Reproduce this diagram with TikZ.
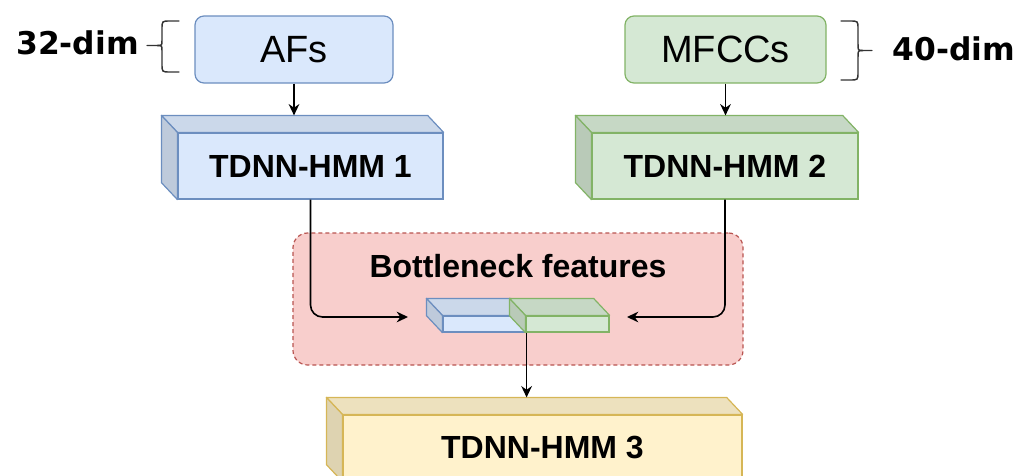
\documentclass[tikz,border=0pt]{standalone}
\usepackage{fontspec}
\setmainfont{Liberation Sans}
\newfontfamily\dimfont{DejaVu Sans}
\usetikzlibrary{calc,arrows.meta}

\definecolor{bluefill}{HTML}{DAE8FC}
\definecolor{bluestroke}{HTML}{6C8EBF}
\definecolor{greenfill}{HTML}{D5E8D4}
\definecolor{greenstroke}{HTML}{82B366}
\definecolor{yellowfill}{HTML}{FFF2CC}
\definecolor{yellowstroke}{HTML}{D6B656}
\definecolor{redfill}{HTML}{F8CECC}
\definecolor{redstroke}{HTML}{B85450}

% top and left faces of a box whose front face is the node #1
\newcommand\cubefaces[3]{%
  \path[draw=#3, line width=0.9pt, line join=round, fill=#2!93!black]
    (#1.north west) -- ++(-16,-17) -- ($(#1.north east)+(-16,-17)$) -- (#1.north east) -- cycle;
  \path[draw=#3, line width=0.9pt, line join=round, fill=#2!87!black]
    (#1.north west) -- ++(-16,-17) -- ($(#1.south west)+(-16,-17)$) -- (#1.south west) -- cycle;
  \coordinate (#1back) at ($(#1.north west)+(-16,-17)$);
}

\tikzset{
  inputbox/.style={draw, rounded corners=6.75pt, line width=0.9pt, inner sep=0pt,
    minimum height=50.25pt, font=\fontsize{28.5}{30}\selectfont},
  frontface/.style={draw, line width=0.9pt, inner sep=0pt, minimum height=49.5pt,
    font=\bfseries\fontsize{24}{26}\selectfont},
  slab/.style={draw, line width=0.9pt, inner sep=0pt, minimum width=62.25pt, minimum height=12pt},
  dimlabel/.style={inner sep=0pt, font=\dimfont\bfseries\fontsize{23.5}{25}\selectfont},
  brace/.style={draw=black!80, line width=1.1pt, line cap=round},
  arrow/.style={draw=black, line width=1.2pt, -{Stealth[length=8.5pt,width=8pt]}},
  link/.style={arrow, rounded corners=9pt},
}

\begin{document}
\begin{tikzpicture}[x=0.75pt, y=-0.75pt]
\useasboundingbox (0,0) rectangle (1035,475);
\clip (0,0) rectangle (1035,475);

% bottleneck region
\node[draw=redstroke, fill=redfill, dash pattern=on 3pt off 2.25pt, line width=0.9pt,
  rounded corners=11pt, minimum width=337.5pt, minimum height=99pt, inner sep=0pt]
  (bn) at (518,299) {};
\node[font=\bfseries\fontsize{24}{26}\selectfont, inner sep=0pt] (bnlabel) at (518,266) {Bottleneck features};

% inputs
\node[inputbox, fill=bluefill, draw=bluestroke, minimum width=148.5pt] (afs) at (294,49.5) {AFs};
\node[inputbox, fill=greenfill, draw=greenstroke, minimum width=150.75pt] (mfcc) at (725.5,49.5) {MFCCs};

% dimension braces
\draw[brace] (179,21) -- (170,21) .. controls (162,21) .. (162,29) -- (162,40)
  .. controls (162,45.5) .. (157,45.5) -- (147,45.5);
\draw[brace] (179,72) -- (170,72) .. controls (162,72) .. (162,64) -- (162,51)
  .. controls (162,45.5) .. (157,45.5);
\node[dimlabel] (dimA) at (77.5,43) {32-dim};

\draw[brace] (841,21) -- (850,21) .. controls (858,21) .. (858,29) -- (858,44)
  .. controls (858,50.5) .. (863,50.5) -- (872,50.5);
\draw[brace] (841,80) -- (850,80) .. controls (858,80) .. (858,72) -- (858,57)
  .. controls (858,50.5) .. (863,50.5);
\node[dimlabel] (dimB) at (954,48.5) {40-dim};

% acoustic models
\node[frontface, fill=bluefill, draw=bluestroke, minimum width=198.75pt] (t1) at (310.5,166) {TDNN-HMM 1};
\cubefaces{t1}{bluefill}{bluestroke}
\node[frontface, fill=greenfill, draw=greenstroke, minimum width=199.5pt] (t2) at (725,166) {TDNN-HMM 2};
\cubefaces{t2}{greenfill}{greenstroke}
\node[frontface, fill=yellowfill, draw=yellowstroke, minimum width=299.25pt] (t3) at (542.5,448) {TDNN-HMM 3};
\cubefaces{t3}{yellowfill}{yellowstroke}

% concatenated bottleneck vectors
\node[slab, fill=bluefill, draw=bluestroke] (bnA) at (484.5,324) {};
\cubefaces{bnA}{bluefill}{bluestroke}
\node[slab, fill=greenfill, draw=greenstroke] (bnB) at (567.5,324) {};
\cubefaces{bnB}{greenfill}{greenstroke}

\coordinate (inL) at (408,317);
\coordinate (inR) at (627,317);

% connectors
\draw[arrow] (afs.south) -- (afs.south |- t1back);
\draw[arrow] (mfcc.south) -- (mfcc.south |- t2back);
\draw[link] (t1.south) |- (inL);
\draw[link] (t2.south) |- (inR);
\draw[arrow] (bnA.south east) -- (bnA.south east |- t3back);
\end{tikzpicture}
\end{document}
